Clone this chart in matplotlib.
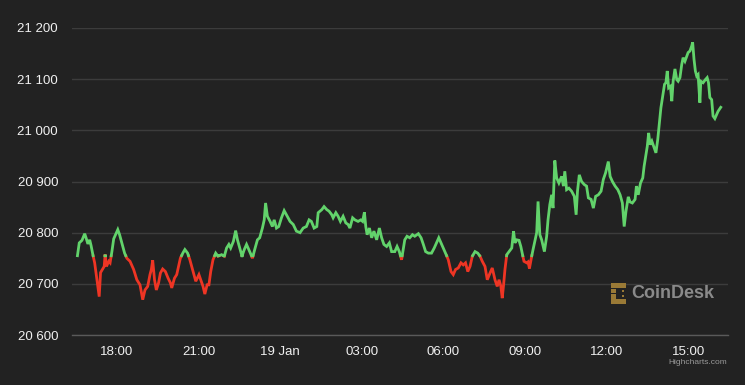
import matplotlib
matplotlib.use("Agg")
import matplotlib.pyplot as plt
import numpy as np

# minutes relative to 18:00 on 18 Jan, BTC price (USD)
minutes = [
    -87, -83, -77, -71, -68, -64, -60, -57, -53, -49, -44, -39, -36, -32, -28, -26,
    -23, -18, -15, -11, -7, -2, 2, 6, 11, 17, 22, 29, 37, 44, 51, 57, 62, 68, 73, 76,
    79, 83, 87, 92, 96, 101, 107, 113, 118, 121, 127, 132, 136, 140, 146, 150, 156,
    161, 168, 174, 181, 185, 190, 194, 199, 203, 207, 212, 218, 223, 231, 237, 242,
    247, 251, 257, 262, 266, 271, 276, 281, 286, 291, 296, 299, 304, 310, 315, 321,
    325, 328, 332, 338, 343, 347, 352, 357, 363, 369, 374, 382, 389, 396, 404, 411,
    418, 424, 429, 435, 441, 444, 452, 457, 463, 468, 474, 477, 483, 488, 493, 499,
    505, 510, 514, 520, 525, 532, 538, 542, 546, 549, 552, 557, 562, 567, 573, 579,
    584, 589, 595, 601, 606, 613, 618, 623, 628, 632, 635, 640, 646, 652, 657, 665,
    671, 676, 681, 687, 694, 700, 705, 710, 715, 720, 725, 731, 737, 742, 747, 753,
    759, 764, 769, 774, 779, 784, 790, 796, 801, 806, 812, 817, 823, 828, 834, 839,
    843, 847, 850, 853, 856, 860, 865, 871, 875, 878, 882, 887, 891, 894, 898, 904,
    907, 910, 915, 918, 922, 926, 929, 933, 937, 943, 948, 951, 955, 959, 962, 966,
    970, 975, 981, 985, 988, 992, 997, 1003, 1009, 1013, 1016, 1020, 1025, 1031,
    1036, 1040, 1046, 1051, 1056, 1062, 1068, 1073, 1078, 1084, 1088, 1093, 1099,
    1105, 1110, 1115, 1119, 1123, 1128, 1132, 1137, 1143, 1146, 1150, 1155, 1160,
    1163, 1167, 1170, 1173, 1176, 1180, 1185, 1189, 1193, 1196, 1200, 1204, 1208,
    1211, 1214, 1217, 1221, 1224, 1227, 1231, 1235, 1238, 1242, 1246, 1249, 1253,
    1257, 1260, 1264, 1268, 1270, 1273, 1276, 1279, 1282, 1286, 1288, 1293, 1298,
    1302, 1305, 1308, 1312, 1315, 1319, 1323, 1326, 1332,
]
prices = [
    20755, 20780, 20785, 20798, 20790, 20778, 20786, 20775, 20757, 20741, 20708, 20675,
    20722, 20728, 20734, 20757, 20734, 20744, 20741, 20763, 20788, 20798, 20806, 20796,
    20780, 20760, 20750, 20744, 20728, 20708, 20698, 20669, 20688, 20695, 20718, 20728,
    20746, 20708, 20688, 20702, 20721, 20729, 20724, 20711, 20702, 20692, 20711, 20718,
    20734, 20750, 20761, 20767, 20760, 20747, 20724, 20705, 20718, 20708, 20695, 20680,
    20698, 20698, 20724, 20747, 20760, 20754, 20757, 20754, 20770, 20777, 20770, 20783,
    20804, 20786, 20770, 20754, 20767, 20777, 20767, 20757, 20750, 20767, 20786, 20790,
    20809, 20825, 20858, 20832, 20822, 20812, 20825, 20809, 20812, 20829, 20843, 20835,
    20822, 20816, 20803, 20800, 20809, 20812, 20825, 20822, 20809, 20812, 20839, 20845,
    20851, 20845, 20842, 20835, 20829, 20839, 20832, 20822, 20832, 20819, 20816, 20809,
    20829, 20825, 20822, 20825, 20822, 20840, 20812, 20796, 20809, 20790, 20803, 20786,
    20809, 20790, 20777, 20773, 20780, 20763, 20763, 20773, 20763, 20747, 20770, 20786,
    20793, 20790, 20796, 20793, 20798, 20790, 20777, 20763, 20760, 20760, 20770, 20780,
    20790, 20780, 20770, 20760, 20747, 20724, 20718, 20728, 20731, 20741, 20737, 20741,
    20724, 20734, 20754, 20763, 20760, 20754, 20744, 20734, 20708, 20721, 20731, 20708,
    20695, 20708, 20695, 20672, 20698, 20728, 20757, 20763, 20770, 20803, 20780, 20786,
    20785, 20773, 20760, 20744, 20741, 20743, 20730, 20754, 20767, 20783, 20800, 20861,
    20796, 20786, 20763, 20793, 20825, 20855, 20874, 20848, 20941, 20907, 20897, 20910,
    20891, 20920, 20884, 20887, 20881, 20871, 20835, 20881, 20913, 20900, 20894, 20891,
    20868, 20865, 20848, 20871, 20874, 20881, 20904, 20917, 20939, 20910, 20900, 20891,
    20884, 20874, 20858, 20812, 20842, 20870, 20860, 20858, 20865, 20891, 20874, 20897,
    20907, 20930, 20953, 20969, 20995, 20972, 20979, 20966, 20956, 20982, 21008, 21044,
    21067, 21090, 21093, 21116, 21083, 21086, 21057, 21096, 21120, 21099, 21096, 21103,
    21129, 21142, 21135, 21145, 21152, 21155, 21165, 21172, 21139, 21116, 21106, 21109,
    21054, 21096, 21093, 21099, 21103, 21093, 21064, 21060, 21028, 21023, 21031, 21037,
    21045,
]
threshold = 20755

tick_minutes = [0, 180, 360, 540, 720, 900, 1080, 1260]
tick_labels = ["18:00", "21:00", "19 Jan", "03:00", "06:00", "09:00", "12:00", "15:00"]
y_ticks = [20600, 20700, 20800, 20900, 21000, 21100, 21200]

BG = "#222222"
GREEN = "#62d36b"
RED = "#ee3524"


def split_at(x, y, thr):
    # add a point where the line crosses the threshold so both colours meet
    xs, ys = [x[0]], [y[0]]
    for i in range(1, len(x)):
        if (y[i - 1] - thr) * (y[i] - thr) < 0:
            t = (thr - y[i - 1]) / (y[i] - y[i - 1])
            xs.append(x[i - 1] + t * (x[i] - x[i - 1]))
            ys.append(thr)
        xs.append(x[i])
        ys.append(y[i])
    return np.array(xs, float), np.array(ys, float)


def main():
    plt.rcParams['font.family'] = ['Liberation Sans', 'DejaVu Sans']
    fig = plt.figure(figsize=(7.45, 3.85), dpi=100, facecolor=BG)
    ax = fig.add_axes([72 / 745, 50 / 385, 656 / 745, 307 / 385], facecolor=BG)

    xs, ys = split_at(minutes, prices, threshold)
    up = np.ma.masked_where(ys < threshold, ys)
    down = np.ma.masked_where(ys > threshold, ys)
    ax.plot(xs, down, color=RED, lw=2.0, solid_joinstyle='miter', zorder=3)
    ax.plot(xs, up, color=GREEN, lw=2.0, solid_joinstyle='miter', zorder=3)

    ax.set_xlim(-99, 1348)
    ax.set_ylim(20600, 21200)
    ax.set_yticks(y_ticks)
    ax.set_yticklabels([f"{v // 1000} {v % 1000:03d}" for v in y_ticks])
    ax.set_xticks(tick_minutes)
    ax.set_xticklabels(tick_labels)
    ax.tick_params(axis='both', length=0, colors='#f0f0f0', labelsize=9.5)
    ax.tick_params(axis='y', pad=10)
    ax.tick_params(axis='x', pad=8)

    ax.grid(axis='y', color='#3c3c3c', lw=1)
    ax.set_axisbelow(True)
    for s in ['top', 'right', 'left']:
        ax.spines[s].set_visible(False)
    ax.spines['bottom'].set_color('#5a5a5a')
    ax.spines['bottom'].set_linewidth(1)

    # CoinDesk watermark
    gold = '#9a7a36'
    sq = 4.5
    for (px, py) in [(611, 283), (616, 283), (621, 283), (611, 288.5),
                     (611, 294), (611, 299), (616, 299), (621, 299)]:
        fig.patches.append(plt.Rectangle((px / 745, 1 - (py + sq) / 385),
                                         sq / 745, sq / 385,
                                         transform=fig.transFigure,
                                         facecolor=gold, edgecolor='none'))
    for (px, py) in [(622, 290), (622, 295)]:
        fig.patches.append(plt.Rectangle((px / 745, 1 - (py + 2) / 385),
                                         2 / 745, 2 / 385,
                                         transform=fig.transFigure,
                                         facecolor=gold, edgecolor='none'))
    fig.text(631 / 745, 1 - 293.5 / 385, 'CoinDesk', color='#8a8a8a',
             fontsize=13, fontweight='bold', va='center', ha='left')
    fig.text(727 / 745, 1 - 363 / 385, 'Highcharts.com', color='#999999',
             fontsize=6, va='center', ha='right')

    fig.savefig('out.png', dpi=100, facecolor=BG)


if __name__ == "__main__":
    main()
